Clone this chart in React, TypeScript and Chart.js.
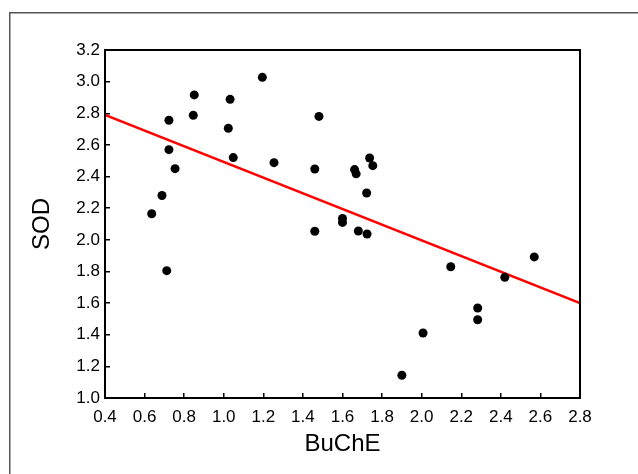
import React, { useEffect, useRef } from "react";
import { Chart, registerables } from "chart.js";

Chart.register(...registerables);

const buche = [
  0.636, 0.688, 0.754, 0.723, 0.723, 0.712, 0.846, 0.851, 1.032, 1.023,
  1.048, 1.195, 1.254, 1.46, 1.481, 1.46, 1.6, 1.6, 1.661, 1.669,
  1.68, 1.724, 1.722, 1.737, 1.753, 2.147, 1.9, 2.007, 2.283, 2.283,
  2.42, 2.569,
];
const sod = [
  2.165, 2.28, 2.45, 2.57, 2.756, 1.805, 2.787, 2.916, 2.888, 2.705,
  2.52, 3.027, 2.488, 2.448, 2.78, 2.054, 2.135, 2.11, 2.444, 2.417,
  2.056, 2.037, 2.296, 2.517, 2.469, 1.83, 1.144, 1.411, 1.569, 1.495,
  1.763, 1.892,
];
const fitX = [0.4, 2.8];
const fitY = [2.79, 1.6];
const xTicks = [0.4, 0.6, 0.8, 1.0, 1.2, 1.4, 1.6, 1.8, 2.0, 2.2, 2.4, 2.6, 2.8];
const yTicks = [1.0, 1.2, 1.4, 1.6, 1.8, 2.0, 2.2, 2.4, 2.6, 2.8, 3.0, 3.2];

const FONT = "'Liberation Sans', Arial, sans-serif";

const framePlugin = {
  id: "framePlugin",
  afterDraw(chart: any) {
    const ctx = chart.ctx;
    const a = chart.chartArea;
    ctx.save();
    ctx.strokeStyle = "#555";
    ctx.lineWidth = 1.5;
    ctx.beginPath();
    ctx.moveTo(9.75, chart.height);
    ctx.lineTo(9.75, 12.75);
    ctx.lineTo(chart.width, 12.75);
    ctx.stroke();
    ctx.strokeStyle = "#000";
    ctx.lineWidth = 2;
    ctx.strokeRect(a.left, a.top, a.right - a.left, a.bottom - a.top);
    ctx.restore();
  },
};

export default function App() {
  const ref = useRef<HTMLCanvasElement>(null);
  useEffect(() => {
    if (!ref.current) return;
    const chart = new Chart(ref.current, {
      type: "scatter",
      data: {
        datasets: [
          {
            type: "line",
            data: fitX.map((x, i) => ({ x, y: fitY[i] })),
            borderColor: "#ff0000",
            borderWidth: 2.5,
            pointRadius: 0,
            fill: false,
            order: 2,
          } as any,
          {
            data: buche.map((x, i) => ({ x, y: sod[i] })),
            backgroundColor: "#000",
            borderColor: "#000",
            pointRadius: 4.5,
            borderWidth: 0,
            order: 1,
          },
        ],
      },
      options: {
        responsive: false,
        animation: false,
        devicePixelRatio: 1,
        layout: { padding: { left: 0, top: 50, right: 58, bottom: 0 } },
        plugins: { legend: { display: false }, tooltip: { enabled: false } },
        scales: {
          x: {
            type: "linear",
            min: 0.4,
            max: 2.8,
            afterBuildTicks: (s: any) => {
              s.ticks = xTicks.map((v) => ({ value: v }));
            },
            afterFit: (s: any) => {
              s.height = 76;
            },
            border: { display: false },
            grid: {
              drawOnChartArea: false,
              drawTicks: true,
              tickLength: -5,
              color: "#000",
              lineWidth: 1.5,
            },
            ticks: {
              padding: 14,
              color: "#000",
              font: { family: FONT, size: 17 },
              callback: (v: any) => Number(v).toFixed(1),
              maxRotation: 0,
              autoSkip: false,
            },
            title: {
              display: true,
              text: "BuChE",
              color: "#000",
              font: { family: FONT, size: 24, lineHeight: 1.2 },
              padding: { top: 0, bottom: 15 },
            },
          },
          y: {
            type: "linear",
            min: 1.0,
            max: 3.2,
            afterBuildTicks: (s: any) => {
              s.ticks = yTicks.map((v) => ({ value: v }));
            },
            afterFit: (s: any) => {
              s.width = 105;
            },
            border: { display: false },
            grid: {
              drawOnChartArea: false,
              drawTicks: true,
              tickLength: -5,
              color: "#000",
              lineWidth: 1.5,
            },
            ticks: {
              padding: 10,
              color: "#000",
              font: { family: FONT, size: 17 },
              callback: (v: any) => Number(v).toFixed(1),
              autoSkip: false,
            },
            title: {
              display: true,
              text: "SOD",
              color: "#000",
              font: { family: FONT, size: 24, lineHeight: 1.2 },
              padding: { top: 28, bottom: 0 },
            },
          },
        },
      },
      plugins: [framePlugin],
    });
    return () => chart.destroy();
  }, []);
  return (
    <div style={{ position: "fixed", left: 0, top: 0, width: 638, height: 474, background: "#fff" }}>
      <canvas ref={ref} width={638} height={474} style={{ display: "block" }} />
    </div>
  );
}
